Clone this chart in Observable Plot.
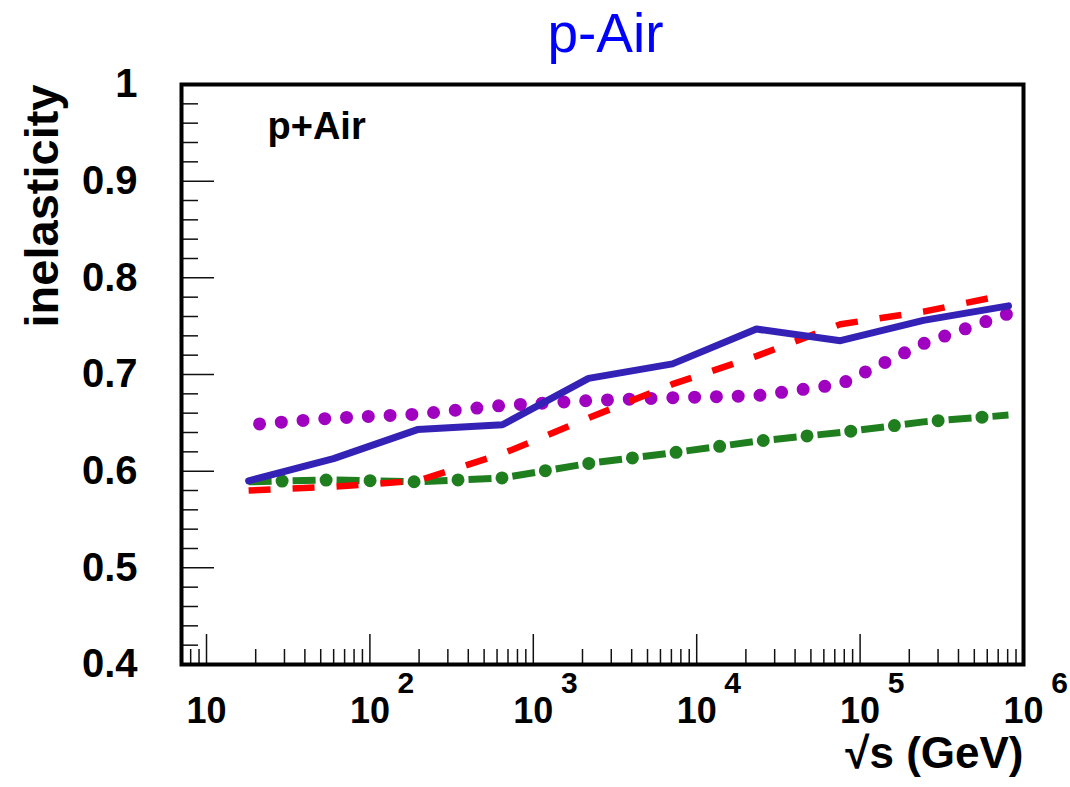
<!DOCTYPE html>
<html><head><meta charset="utf-8">
<script src="https://cdn.jsdelivr.net/npm/d3@7"></script>
<script src="https://cdn.jsdelivr.net/npm/@observablehq/plot@0.6"></script>
<style>body{margin:0;background:#fff;} svg{display:block}</style>
</head><body><div id="chart"></div>
<script>
// ---- data ----
const sqrtS = [18.1, 59.9, 195.5, 647, 2178, 7110, 23200, 75800, 244000, 809000];
const blueSolid    = [0.590, 0.613, 0.643, 0.648, 0.696, 0.711, 0.747, 0.735, 0.756, 0.771];
const redDashed    = [0.580, 0.584, 0.590, 0.618, 0.655, 0.690, 0.719, 0.752, 0.765, 0.783];
const purpleDotted = [0.648, 0.655, 0.659, 0.668, 0.673, 0.676, 0.678, 0.690, 0.732, 0.763];
const greenDashDot = [0.589, 0.591, 0.589, 0.593, 0.608, 0.619, 0.631, 0.640, 0.651, 0.658];

const xTickValues = [10, 100, 1000, 10000, 100000, 1000000];
const xTickBase   = ["10", "10", "10", "10", "10", "10"];
const xTickExp    = ["", "2", "3", "4", "5", "6"];
const yTickValues = [0.4, 0.5, 0.6, 0.7, 0.8, 0.9, 1.0];
const yTickLabels = ["0.4", "0.5", "0.6", "0.7", "0.8", "0.9", "1"];

const titleText = "p-Air";
const panelLabel = "p+Air";
const xLabel = "\u221As (GeV)";
const yLabel = "inelasticity";

// ---- helpers ----
const xDomain = [7.03, 1e6];
const yDomain = [0.4, 1.0];
const pts = ys => sqrtS.map((x, i) => ({x, y: ys[i]}));

const xMinor = [];
for (let e = 0; e < 6; e++) for (let m = 2; m <= 9; m++) {
  const v = m * Math.pow(10, e);
  if (v >= xDomain[0] && v < xDomain[1]) xMinor.push(v);
}
const yMinor = [];
for (let i = 21; i < 50; i++) if (i % 5 !== 0) yMinor.push(i / 50);

const W = 1070, H = 787, mL = 181, mR = 47, mT = 84, mB = 123;
const frameW = W - mL - mR, frameH = H - mT - mB;
const bold = {fontWeight: "bold", fill: "black", lineAnchor: "middle"};

const chart = Plot.plot({
  width: W, height: H,
  marginLeft: mL, marginRight: mR, marginTop: mT, marginBottom: mB,
  style: {fontFamily: "'Liberation Sans', Arial, Helvetica, sans-serif", background: "white", overflow: "visible"},
  x: {type: "log", domain: xDomain, axis: null},
  y: {domain: yDomain, axis: null},
  marks: [
    // ticks
    Plot.tickX(xTickValues, {x: d => d, stroke: "#111", strokeWidth: 1.5, insetTop: frameH - 30}),
    Plot.tickX(xMinor, {x: d => d, stroke: "#111", strokeWidth: 1.5, insetTop: frameH - 15}),
    Plot.tickY(yTickValues, {y: d => d, stroke: "#111", strokeWidth: 1.5, insetRight: frameW - 33}),
    Plot.tickY(yMinor, {y: d => d, stroke: "#111", strokeWidth: 1.5, insetRight: frameW - 17}),
    // series
    Plot.line(pts(greenDashDot), {x: "x", y: "y", stroke: "#1f7f1f", strokeWidth: 7, strokeDasharray: "23,21", strokeLinecap: "butt"}),
    Plot.line(pts(greenDashDot), {x: "x", y: "y", stroke: "#1f7f1f", strokeWidth: 13, strokeDasharray: "0,44", strokeDashoffset: 10.5, strokeLinecap: "round"}),
    Plot.line(pts(purpleDotted), {x: "x", y: "y", stroke: "#a000c0", strokeWidth: 13, strokeDasharray: "0,21.8", strokeDashoffset: 10.8, strokeLinecap: "round"}),
    Plot.line(pts(redDashed), {x: "x", y: "y", stroke: "#ff0000", strokeWidth: 6.5, strokeDasharray: "22,22", strokeLinecap: "butt"}),
    Plot.line(pts(blueSolid), {x: "x", y: "y", stroke: "#3322b5", strokeWidth: 7, strokeLinejoin: "round"}),
    // frame
    Plot.frame({stroke: "black", strokeWidth: 4}),
    // tick labels
    Plot.text(yTickValues, {y: d => d, text: (d, i) => yTickLabels[i], frameAnchor: "left", dx: -44, textAnchor: "end", fontSize: 40, ...bold}),
    Plot.text(xTickValues, {x: d => d, text: (d, i) => xTickBase[i], frameAnchor: "bottom", dy: 47, fontSize: 36, ...bold}),
    Plot.text(xTickValues, {x: d => d, text: (d, i) => xTickExp[i], frameAnchor: "bottom", dx: 36, dy: 19, fontSize: 30, ...bold}),
    // titles
    Plot.text([yLabel], {text: d => d, frameAnchor: "top-left", dx: -139, dy: 0, rotate: -90, textAnchor: "end", fontSize: 47, ...bold}),
    Plot.text([xLabel], {text: d => d, frameAnchor: "bottom-right", dx: 0, dy: 89, textAnchor: "end", fontSize: 44, ...bold}),
    Plot.text([panelLabel], {text: d => d, frameAnchor: "top-left", dx: 86, dy: 42, textAnchor: "start", fontSize: 38, ...bold}),
    Plot.text([titleText], {text: d => d, frameAnchor: "top", dx: 3, dy: -50, lineAnchor: "middle", fontSize: 55, fill: "#0000ff"})
  ]
});
document.getElementById("chart").appendChild(chart);
</script>
</body></html>
